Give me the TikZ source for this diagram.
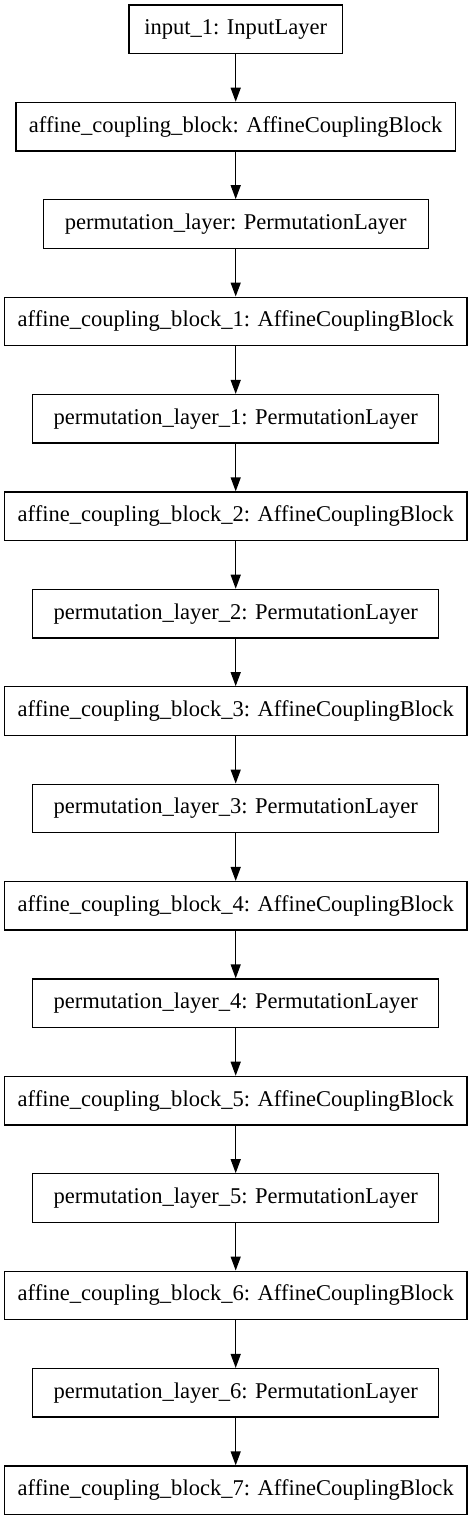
\documentclass[tikz,border=0pt]{standalone}
\usepackage{fontspec}
\setmainfont{Liberation Serif}
\usetikzlibrary{arrows.meta}
\begin{document}
\begin{tikzpicture}[x=0.75pt,y=-0.75pt,
  layerbox/.style={draw=black,line width=1pt,rectangle,inner sep=0pt,
    minimum height=48.5*0.75pt,font=\fontsize{16.9pt}{19pt}\selectfont},
  flow/.style={draw=black,line width=1pt,-{Triangle[length=10.5pt,width=7.5pt]}}]
\useasboundingbox (0,0) rectangle (472,1520);
\node[layerbox,minimum width=213.7*0.75pt] (n0) at (235.7,29.25) {input\_1: InputLayer};
\node[layerbox,minimum width=439.7*0.75pt] (n1) at (235.7,126.65) {affine\_coupling\_block: AffineCouplingBlock};
\node[layerbox,minimum width=385*0.75pt] (n2) at (235.7,224.05) {permutation\_layer: PermutationLayer};
\node[layerbox,minimum width=462.4*0.75pt] (n3) at (235.7,321.45) {affine\_coupling\_block\_1: AffineCouplingBlock};
\node[layerbox,minimum width=406*0.75pt] (n4) at (235.7,418.85) {permutation\_layer\_1: PermutationLayer};
\node[layerbox,minimum width=462.4*0.75pt] (n5) at (235.7,516.25) {affine\_coupling\_block\_2: AffineCouplingBlock};
\node[layerbox,minimum width=406*0.75pt] (n6) at (235.7,613.65) {permutation\_layer\_2: PermutationLayer};
\node[layerbox,minimum width=462.4*0.75pt] (n7) at (235.7,711.05) {affine\_coupling\_block\_3: AffineCouplingBlock};
\node[layerbox,minimum width=406*0.75pt] (n8) at (235.7,808.45) {permutation\_layer\_3: PermutationLayer};
\node[layerbox,minimum width=462.4*0.75pt] (n9) at (235.7,905.85) {affine\_coupling\_block\_4: AffineCouplingBlock};
\node[layerbox,minimum width=406*0.75pt] (n10) at (235.7,1003.25) {permutation\_layer\_4: PermutationLayer};
\node[layerbox,minimum width=462.4*0.75pt] (n11) at (235.7,1100.65) {affine\_coupling\_block\_5: AffineCouplingBlock};
\node[layerbox,minimum width=406*0.75pt] (n12) at (235.7,1198.05) {permutation\_layer\_5: PermutationLayer};
\node[layerbox,minimum width=462.4*0.75pt] (n13) at (235.7,1295.45) {affine\_coupling\_block\_6: AffineCouplingBlock};
\node[layerbox,minimum width=406*0.75pt] (n14) at (235.7,1392.85) {permutation\_layer\_6: PermutationLayer};
\node[layerbox,minimum width=462.4*0.75pt] (n15) at (235.7,1490.25) {affine\_coupling\_block\_7: AffineCouplingBlock};
\foreach \a [evaluate=\a as \b using int(\a+1)] in {0,...,14}
  \draw[flow] (n\a.south) -- (n\b.north);
\end{tikzpicture}
\end{document}
